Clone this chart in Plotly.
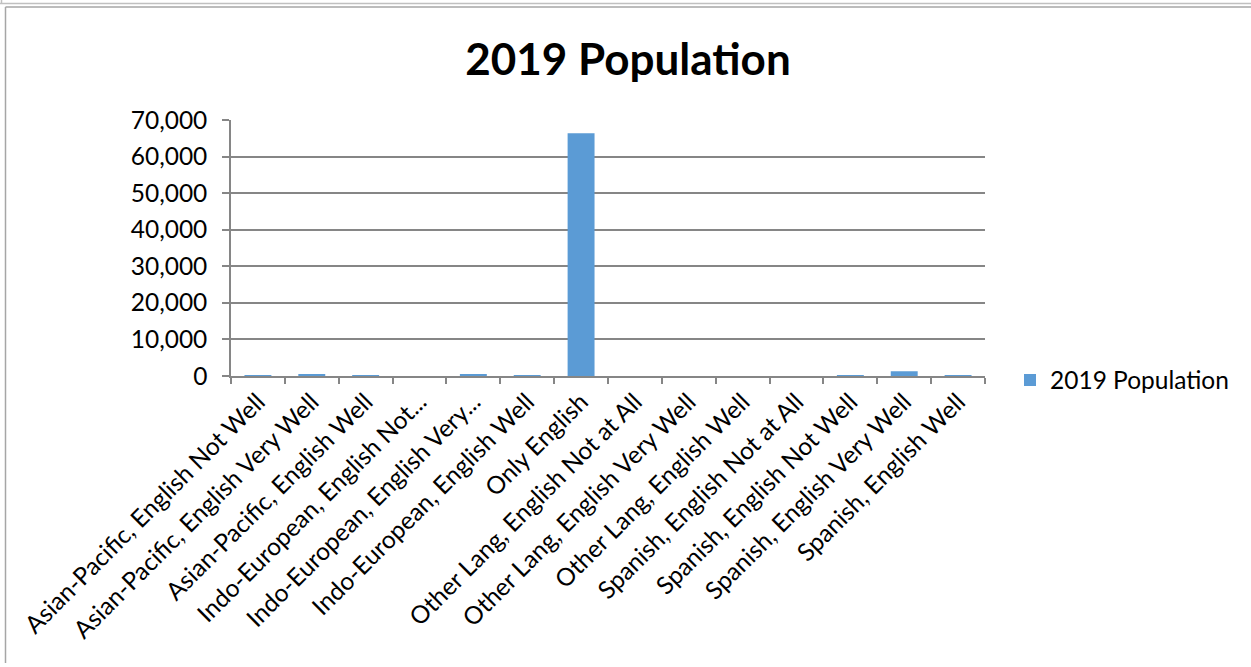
import plotly.graph_objects as go

categories = [
    "Asian-Pacific, English Not Well",
    "Asian-Pacific, English Very Well",
    "Asian-Pacific, English Well",
    "Indo-European, English Not...",
    "Indo-European, English Very...",
    "Indo-European, English Well",
    "Only English",
    "Other Lang, English Not at All",
    "Other Lang, English Very Well",
    "Other Lang, English Well",
    "Spanish, English Not at All",
    "Spanish, English Not Well",
    "Spanish, English Very Well",
    "Spanish, English Well",
]
population_2019 = [80, 350, 250, 0, 550, 80, 66400, 0, 0, 0, 0, 250, 1300, 250]
series_name = "2019 Population"
y_ticks = [0, 10000, 20000, 30000, 40000, 50000, 60000, 70000]

W, H = 1251, 667
L, R, T, B = 231, 985, 120, 376
pw, ph = R - L, B - T

def px(x):
    return (x - L) / pw

def py(y):
    return (B - y) / ph

FONT = "Lato"
FS = 24.5

fig = go.Figure()
fig.add_trace(go.Bar(
    x=categories,
    y=population_2019,
    name=series_name,
    marker=dict(color="#5B9BD5", line=dict(width=0)),
    showlegend=True,
))

border = "#A6A6A6"
shapes = [
    dict(type="line", xref="paper", yref="paper",
         x0=px(5.5), x1=px(1270), y0=py(7), y1=py(7),
         line=dict(color=border, width=1.5)),
    dict(type="line", xref="paper", yref="paper",
         x0=px(5.5), x1=px(5.5), y0=py(7), y1=py(663),
         line=dict(color=border, width=1.5)),
    dict(type="line", xref="paper", yref="paper",
         x0=px(0), x1=px(1270), y0=py(3.5), y1=py(3.5),
         line=dict(color="#C0C0C0", width=1.5)),
    dict(type="line", xref="paper", yref="paper",
         x0=px(1.5), x1=px(1.5), y0=py(3.5), y1=py(-5),
         line=dict(color="#C0C0C0", width=1.5)),
]

fig.update_layout(
    width=W, height=H,
    margin=dict(l=L, r=W - R, t=T, b=H - B, autoexpand=False),
    paper_bgcolor="white",
    plot_bgcolor="white",
    bargap=0.5,
    font=dict(family=FONT, size=FS, color="black"),
    title=dict(text="<b>2019 Population</b>", x=628 / W, xanchor="center",
               y=1 - 60 / H, yanchor="middle", yref="container",
               font=dict(family=FONT, size=44, color="black")),
    legend=dict(x=px(1010), y=py(380), xanchor="left", yanchor="middle",
                font=dict(family=FONT, size=FS, color="black"),
                bgcolor="rgba(0,0,0,0)", itemwidth=30),
    shapes=shapes,
    xaxis=dict(
        type="category",
        showline=True, linecolor="#868686", linewidth=1.5,
        ticks="outside", tickson="boundaries", ticklen=6,
        tickcolor="#868686", tickwidth=1.5,
        tickangle=-45, automargin=False,
        tickfont=dict(family=FONT, size=FS, color="black"),
        showgrid=False,
    ),
    yaxis=dict(
        range=[0, 70000],
        tickvals=y_ticks,
        tickformat=",",
        showline=True, linecolor="#868686", linewidth=1.5,
        ticks="outside", ticklen=7, tickcolor="#868686", tickwidth=1.5,
        ticklabelstandoff=10,
        showgrid=True, gridcolor="#868686", gridwidth=1.5,
        zeroline=False, automargin=False,
        tickfont=dict(family=FONT, size=FS, color="black"),
    ),
)

fig.write_html("out.html",
               config={"displayModeBar": False},
               post_script="document.body.style.margin='0px';document.body.style.overflow='hidden';")
